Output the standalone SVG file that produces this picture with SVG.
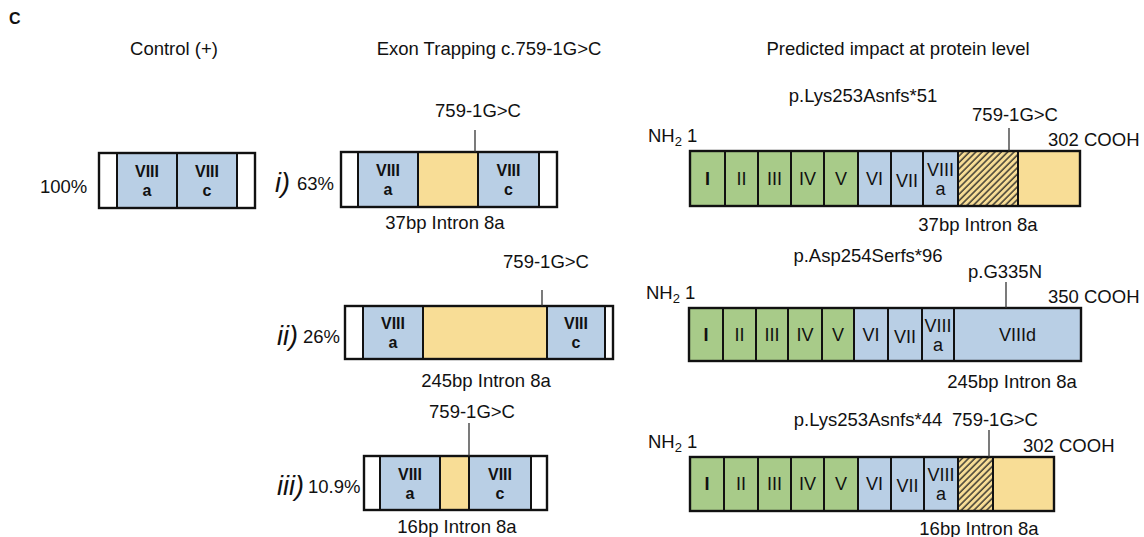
<svg xmlns="http://www.w3.org/2000/svg" width="1144" height="537" viewBox="0 0 1144 537">
<style>
text{font-family:"Liberation Sans",Arial,sans-serif;fill:#111;}
.t{font-size:18.5px;}
.mid{text-anchor:middle;}
.ex{font-size:16px;font-weight:bold;text-anchor:middle;}
.pl{font-size:18px;text-anchor:middle;}
.rn{font-size:27px;font-style:italic;}
.w{fill:#fff;}
.b{fill:#b9cfe5;}
.g{fill:#a8cb89;}
.y{fill:#f8dd96;}
.h{fill:url(#hatch);}
.div{stroke:#111;stroke-width:2;fill:none;}
.box{stroke:#111;stroke-width:2.4;fill:none;}
.lead{stroke:#333;stroke-width:1.3;}
</style>
<defs>
<pattern id="hatch" patternUnits="userSpaceOnUse" width="4.5" height="4.5" patternTransform="rotate(45)">
<rect width="4.5" height="4.5" fill="#f8dd96"/>
<line x1="1" y1="0" x2="1" y2="4.5" stroke="#222" stroke-width="1.3"/>
</pattern>
</defs>
<rect width="1144" height="537" fill="#fff"/>

<g id="headers">
<text x="9" y="24" style="font-size:16px;font-weight:bold">C</text>
<text class="t mid" x="174" y="55">Control (+)</text>
<text class="t mid" x="489" y="55">Exon Trapping c.759-1G&gt;C</text>
<text class="t mid" x="898" y="55">Predicted impact at protein level</text>
</g>

<g id="control">
<text class="t" x="40" y="193">100%</text>
<rect class="w" x="99" y="153" width="18" height="55"/>
<rect class="b" x="117" y="153" width="60" height="55"/>
<rect class="b" x="177" y="153" width="60" height="55"/>
<rect class="w" x="237" y="153" width="18" height="55"/>
<path class="div" d="M117 153V208M177 153V208M237 153V208"/>
<rect class="box" x="99" y="153" width="156" height="55"/>
<text class="ex" x="147" y="177">VIII</text><text class="ex" x="147" y="196">a</text>
<text class="ex" x="207" y="177">VIII</text><text class="ex" x="207" y="196">c</text>
</g>

<g id="trap-i">
<text class="rn" x="275" y="192">i)</text>
<text class="t" x="297" y="190">63%</text>
<text class="t mid" x="478" y="117">759-1G&gt;C</text>
<rect class="w" x="341" y="152" width="17" height="55"/>
<rect class="b" x="358" y="152" width="60" height="55"/>
<rect class="y" x="418" y="152" width="60" height="55"/>
<rect class="b" x="478" y="152" width="61" height="55"/>
<rect class="w" x="539" y="152" width="18" height="55"/>
<path class="div" d="M358 152V207M418 152V207M478 152V207M539 152V207"/>
<rect class="box" x="341" y="152" width="216" height="55"/>
<text class="ex" x="388" y="176">VIII</text><text class="ex" x="388" y="195">a</text>
<text class="ex" x="508.500" y="176">VIII</text><text class="ex" x="508.500" y="195">c</text>
<text class="t mid" x="445" y="229">37bp Intron 8a</text>
</g>

<g id="trap-ii">
<text class="rn" x="277" y="345">ii)</text>
<text class="t" x="303" y="343">26%</text>
<text class="t mid" x="546" y="268">759-1G&gt;C</text>
<rect class="w" x="345" y="306" width="18" height="53"/>
<rect class="b" x="363" y="306" width="60" height="53"/>
<rect class="y" x="423" y="306" width="124" height="53"/>
<rect class="b" x="547" y="306" width="58" height="53"/>
<rect class="w" x="605" y="306" width="8" height="53"/>
<path class="div" d="M363 306V359M423 306V359M547 306V359M605 306V359"/>
<rect class="box" x="345" y="306" width="268" height="53"/>
<text class="ex" x="393" y="329">VIII</text><text class="ex" x="393" y="348">a</text>
<text class="ex" x="576" y="329">VIII</text><text class="ex" x="576" y="348">c</text>
<text class="t mid" x="486" y="387">245bp Intron 8a</text>
</g>

<g id="trap-iii">
<text class="rn" x="277" y="495">iii)</text>
<text class="t" x="308" y="493">10.9%</text>
<text class="t mid" x="472" y="418">759-1G&gt;C</text>
<rect class="w" x="364" y="456" width="16" height="54"/>
<rect class="b" x="380" y="456" width="60" height="54"/>
<rect class="y" x="440" y="456" width="29" height="54"/>
<rect class="b" x="469" y="456" width="62" height="54"/>
<rect class="w" x="531" y="456" width="16" height="54"/>
<path class="div" d="M380 456V510M440 456V510M469 456V510M531 456V510"/>
<rect class="box" x="364" y="456" width="183" height="54"/>
<text class="ex" x="410" y="480">VIII</text><text class="ex" x="410" y="499">a</text>
<text class="ex" x="500" y="480">VIII</text><text class="ex" x="500" y="499">c</text>
<text class="t mid" x="457" y="533">16bp Intron 8a</text>
</g>

<g id="protein-i">
<text class="t mid" x="863" y="102">p.Lys253Asnfs*51</text>
<text class="t mid" x="1015" y="121">759-1G&gt;C</text>
<text class="t" x="648" y="142">NH<tspan dy="4" style="font-size:13px">2</tspan><tspan dy="-4"> 1</tspan></text>
<text class="t" x="1048" y="146">302 COOH</text>
<rect class="g" x="690" y="151" width="168" height="55"/>
<rect class="b" x="858" y="151" width="100" height="55"/>
<rect class="h" x="958" y="151" width="60" height="55"/>
<rect class="y" x="1018" y="151" width="62" height="55"/>
<path class="div" d="M725 151V206M758 151V206M791 151V206M824 151V206M858 151V206M891 151V206M923 151V206M958 151V206M1018 151V206"/>
<rect class="box" x="690" y="151" width="390" height="55"/>
<text class="pl" x="707.500" y="185" style="font-weight:bold">I</text>
<text class="pl" x="741.500" y="185">II</text>
<text class="pl" x="774.500" y="185">III</text>
<text class="pl" x="807.500" y="185">IV</text>
<text class="pl" x="841" y="185">V</text>
<text class="pl" x="874.500" y="185">VI</text>
<text class="pl" x="907" y="187">VII</text>
<text class="pl" x="940.500" y="176">VIII</text>
<text class="pl" x="940.500" y="195">a</text>
<text class="t mid" x="978" y="231">37bp Intron 8a</text>
</g>

<g id="protein-ii">
<text class="t mid" x="868" y="262">p.Asp254Serfs*96</text>
<text class="t mid" x="1005" y="278">p.G335N</text>
<text class="t" x="646" y="299">NH<tspan dy="4" style="font-size:13px">2</tspan><tspan dy="-4"> 1</tspan></text>
<text class="t" x="1048" y="303">350 COOH</text>
<rect class="g" x="689" y="308" width="165" height="53"/>
<rect class="b" x="854" y="308" width="227" height="53"/>
<path class="div" d="M723 308V361M756 308V361M788 308V361M822 308V361M854 308V361M888 308V361M922 308V361M954 308V361"/>
<rect class="box" x="689" y="308" width="392" height="53"/>
<text class="pl" x="706" y="341" style="font-weight:bold">I</text>
<text class="pl" x="739.500" y="341">II</text>
<text class="pl" x="772" y="341">III</text>
<text class="pl" x="805" y="341">IV</text>
<text class="pl" x="838" y="341">V</text>
<text class="pl" x="871" y="341">VI</text>
<text class="pl" x="905" y="343">VII</text>
<text class="pl" x="938" y="332">VIII</text>
<text class="pl" x="938" y="351">a</text>
<text class="pl" x="1017.500" y="341">VIIId</text>
<text class="t mid" x="1012" y="388">245bp Intron 8a</text>
</g>

<g id="protein-iii">
<text class="t mid" x="868" y="426">p.Lys253Asnfs*44</text>
<text class="t mid" x="995" y="426">759-1G&gt;C</text>
<text class="t" x="648" y="448">NH<tspan dy="4" style="font-size:13px">2</tspan><tspan dy="-4"> 1</tspan></text>
<text class="t" x="1023" y="452">302 COOH</text>
<rect class="g" x="690" y="457" width="168" height="54"/>
<rect class="b" x="858" y="457" width="100" height="54"/>
<rect class="h" x="958" y="457" width="35" height="54"/>
<rect class="y" x="993" y="457" width="61" height="54"/>
<path class="div" d="M724 457V511M758 457V511M791 457V511M824 457V511M858 457V511M891 457V511M924 457V511M958 457V511M993 457V511"/>
<rect class="box" x="690" y="457" width="364" height="54"/>
<text class="pl" x="707" y="490" style="font-weight:bold">I</text>
<text class="pl" x="741" y="490">II</text>
<text class="pl" x="774.500" y="490">III</text>
<text class="pl" x="807.500" y="490">IV</text>
<text class="pl" x="841" y="490">V</text>
<text class="pl" x="874.500" y="490">VI</text>
<text class="pl" x="907.500" y="492">VII</text>
<text class="pl" x="941" y="481">VIII</text>
<text class="pl" x="941" y="500">a</text>
<text class="t mid" x="979" y="535">16bp Intron 8a</text>
</g>

<g id="connectors">
<line class="lead" x1="475" y1="130" x2="475" y2="152"/>
<line class="lead" x1="542" y1="290" x2="542" y2="306"/>
<line class="lead" x1="469" y1="423" x2="469" y2="456"/>
<line class="lead" x1="1009" y1="128" x2="1009" y2="151"/>
<line class="lead" x1="1006" y1="282" x2="1006" y2="308"/>
<line class="lead" x1="989" y1="430" x2="989" y2="457"/>
</g>
</svg>
